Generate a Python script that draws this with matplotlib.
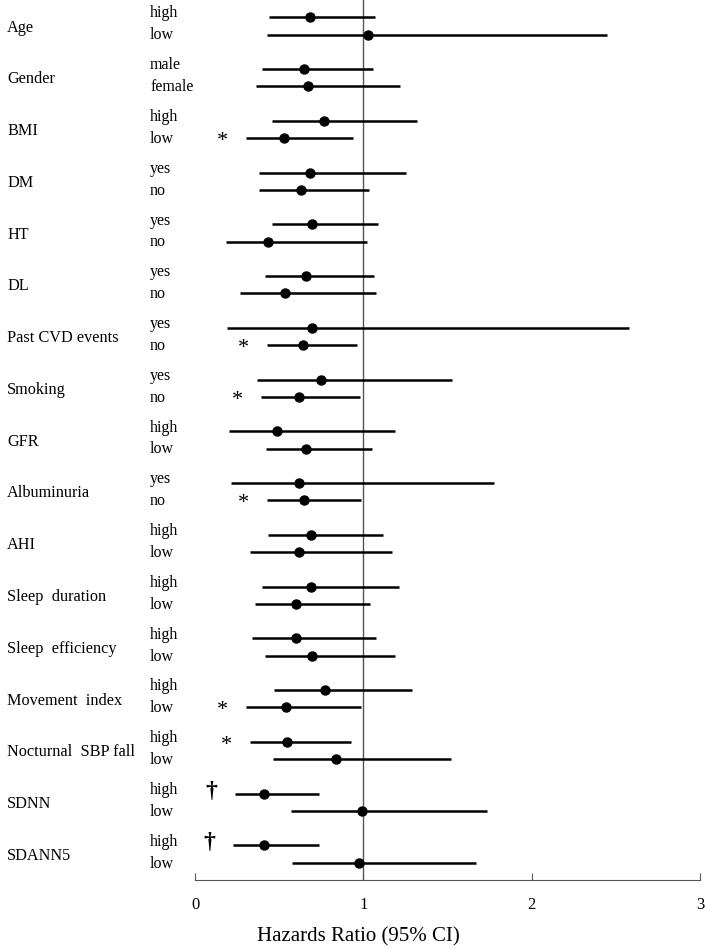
import matplotlib
matplotlib.use("Agg")
import matplotlib.pyplot as plt
import matplotlib.transforms as mtransforms

plt.rcParams['font.family'] = ['Liberation Serif', 'DejaVu Serif']

# groups and sub-groups, top to bottom
groups = ["Age", "Gender", "BMI", "DM", "HT", "DL", "Past CVD events", "Smoking",
          "GFR", "Albuminuria", "AHI", "Sleep  duration", "Sleep  efficiency",
          "Movement  index", "Nocturnal  SBP fall", "SDNN", "SDANN5"]
subgroups = [("high", "low"), ("male", "female"), ("high", "low"), ("yes", "no"),
             ("yes", "no"), ("yes", "no"), ("yes", "no"), ("yes", "no"),
             ("high", "low"), ("yes", "no"), ("high", "low"), ("high", "low"),
             ("high", "low"), ("high", "low"), ("high", "low"), ("high", "low"),
             ("high", "low")]

# hazard ratio, lower and upper 95% CI (first, second sub-group)
hr = [(0.686, 1.03), (0.647, 0.669), (0.766, 0.528), (0.686, 0.629), (0.698, 0.435),
      (0.659, 0.534), (0.698, 0.639), (0.746, 0.619), (0.489, 0.659), (0.619, 0.647),
      (0.692, 0.619), (0.692, 0.60), (0.60, 0.698), (0.775, 0.54), (0.546, 0.837),
      (0.411, 0.995), (0.411, 0.975)]
lower = [(0.44, 0.43), (0.40, 0.362), (0.455, 0.303), (0.382, 0.382), (0.455, 0.184),
         (0.415, 0.267), (0.188, 0.429), (0.366, 0.394), (0.202, 0.42), (0.214, 0.43),
         (0.435, 0.326), (0.40, 0.356), (0.336, 0.415), (0.469, 0.303), (0.326, 0.461),
         (0.237, 0.57), (0.227, 0.574)]
upper = [(1.072, 2.45), (1.06, 1.22), (1.316, 0.94), (1.256, 1.033), (1.09, 1.019),
         (1.064, 1.078), (2.58, 0.96), (1.525, 0.983), (1.19, 1.052), (1.777, 0.985),
         (1.118, 1.17), (1.21, 1.04), (1.078, 1.19), (1.29, 0.985), (0.926, 1.52),
         (0.736, 1.737), (0.736, 1.672)]

# significance marks: (group, sub-group index, symbol)
marks = [(2, 1, "*"), (6, 1, "*"), (7, 1, "*"), (9, 1, "*"), (13, 1, "*"),
         (14, 0, "*"), (15, 0, "\u2020"), (16, 0, "\u2020")]

fig = plt.figure(figsize=(7.05, 9.49), dpi=100)
ax = fig.add_axes([195 / 705, 1 - 880 / 949, 505 / 705, 880 / 949])

ax.axvline(1, color="#555555", lw=1.0, zorder=1)

for i in range(len(groups)):
    for j in range(2):
        y = 3 * i + j
        ax.plot([lower[i][j], upper[i][j]], [y, y], color="black", lw=1.8,
                solid_capstyle="butt", zorder=2)
        ax.plot(hr[i][j], y, "o", color="black", ms=6.5, zorder=3)

for i, j, sym in marks:
    y = 3 * i + j
    if sym == "*":
        ax.text(lower[i][j] - 0.14, y + 0.2, sym, fontsize=16, ha="center", va="center")
    else:
        ax.text(lower[i][j] - 0.14, y - 0.15, sym, fontsize=17, fontweight="bold",
                ha="center", va="center")

trans = mtransforms.blended_transform_factory(ax.transAxes, ax.transData)
for i, name in enumerate(groups):
    ax.text(-0.372, 3 * i + 0.6, name, transform=trans, fontsize=11.7,
            ha="left", va="center")
    ax.text(-0.089, 3 * i - 0.22, subgroups[i][0], transform=trans,
            fontsize=11.5, ha="left", va="center")
    ax.text(-0.089, 3 * i + 1.05, subgroups[i][1], transform=trans,
            fontsize=11.5, ha="left", va="center")

ax.set_xlim(0, 3)
ax.set_ylim(50, -1)
ax.set_xticks([0, 1, 2, 3])
ax.set_yticks([])
for s in ["top", "right", "left"]:
    ax.spines[s].set_visible(False)
ax.spines["bottom"].set_color("#555555")
ax.tick_params(axis="x", direction="in", length=5, color="#555555",
               labelsize=12, pad=12)
fig.text(358 / 705, 1 - 937 / 949, "Hazards Ratio (95% CI)", fontsize=15,
         ha="center", va="center")

fig.savefig("out.png", dpi=100)
